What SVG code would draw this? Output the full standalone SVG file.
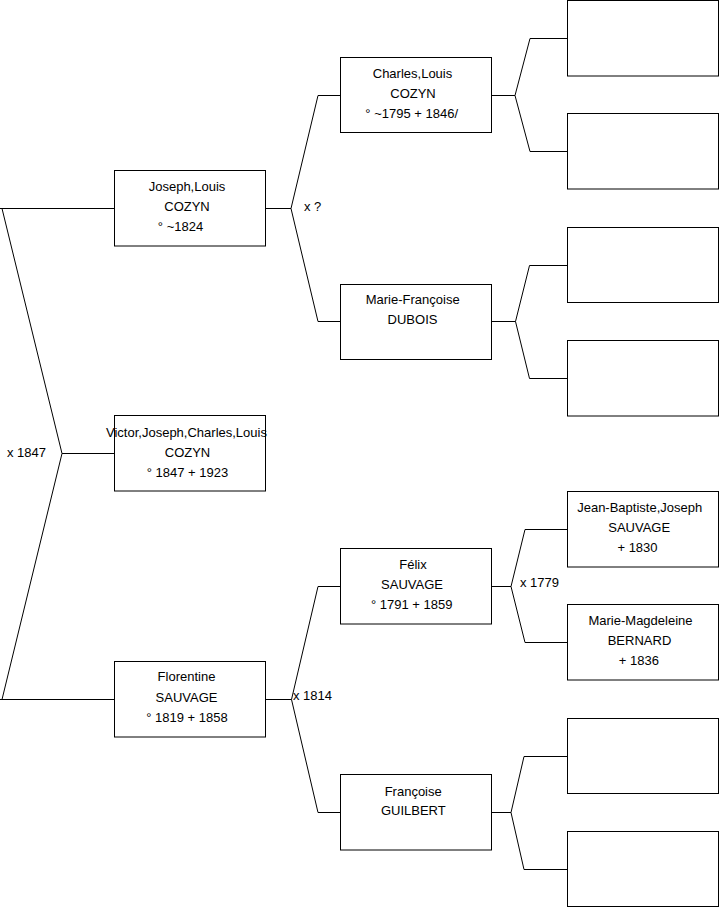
<svg xmlns="http://www.w3.org/2000/svg" width="719" height="908" viewBox="0 0 719 908">
<style>
.box{fill:#fff;stroke:#000;stroke-width:1}
.ln{fill:none;stroke:#000;stroke-width:1}
text{font-family:"Liberation Sans",Arial,sans-serif;font-size:13px;fill:#000}
.c{text-anchor:middle}
</style>
<rect width="719" height="908" fill="#fff"/>
<g id="connectors">
<polyline class="ln" points="114,208.5 0,208.5"/>
<polyline class="ln" points="2,208.5 62,453.5 2,699.5"/>
<polyline class="ln" points="62,453.5 114,453.5"/>
<polyline class="ln" points="0,699.5 114,699.5"/>
<polyline class="ln" points="265,208.5 291,208.5"/>
<polyline class="ln" points="341,95.5 318,95.5 291,208.5 318,321.5 341,321.5"/>
<polyline class="ln" points="265,699.5 291.5,699.5"/>
<polyline class="ln" points="341,586.5 318,586.5 291.5,699.5 318,812.5 341,812.5"/>
<polyline class="ln" points="491,95.5 515,95.5"/>
<polyline class="ln" points="567,38.5 530,38.5 515,95.5 530,151.5 567,151.5"/>
<polyline class="ln" points="491,321.5 515.5,321.5"/>
<polyline class="ln" points="567,265.5 529.5,265.5 515.5,321.5 529.5,378.5 567,378.5"/>
<polyline class="ln" points="491,586.5 511,586.5"/>
<polyline class="ln" points="567,529.5 525,529.5 511,586.5 525,642.5 567,642.5"/>
<polyline class="ln" points="491,812.5 511,812.5"/>
<polyline class="ln" points="567,756.5 524,756.5 511,812.5 524,869.5 567,869.5"/>
<text x="7" y="457">x 1847</text>
<text x="304" y="211">x ?</text>
<text x="293" y="700">x 1814</text>
<text x="520" y="587">x 1779</text>
</g>
<g id="joseph">
<rect class="box" x="114.5" y="170.5" width="151" height="75.5"/>
<text class="c" x="187" y="191">Joseph,Louis</text>
<text class="c" x="187" y="211">COZYN</text>
<text class="c" x="180.5" y="231">° ~1824</text>
</g>
<g id="victor">
<rect class="box" x="114.5" y="415.5" width="151" height="75.5"/>
<text class="c" x="186.5" y="437">Victor,Joseph,Charles,Louis</text>
<text class="c" x="187.5" y="457">COZYN</text>
<text class="c" x="187.5" y="477">° 1847 + 1923</text>
</g>
<g id="florentine">
<rect class="box" x="114.5" y="661.5" width="151" height="75.5"/>
<text class="c" x="186.5" y="681">Florentine</text>
<text class="c" x="186.5" y="701.5">SAUVAGE</text>
<text class="c" x="187" y="721.5">° 1819 + 1858</text>
</g>
<g id="charles">
<rect class="box" x="340.5" y="57.5" width="151" height="75"/>
<text class="c" x="412.5" y="77.5">Charles,Louis</text>
<text class="c" x="413" y="97.5">COZYN</text>
<text class="c" x="411.7" y="117.5">° ~1795 + 1846/</text>
</g>
<g id="marie-francoise">
<rect class="box" x="340.5" y="284.5" width="151" height="75"/>
<text class="c" x="412.7" y="303.5">Marie-Françoise</text>
<text class="c" x="412.5" y="323.5">DUBOIS</text>
</g>
<g id="felix">
<rect class="box" x="340.5" y="548.5" width="151" height="75.5"/>
<text class="c" x="413" y="568.5">Félix</text>
<text class="c" x="412" y="588.5">SAUVAGE</text>
<text class="c" x="411.7" y="608.5">° 1791 + 1859</text>
</g>
<g id="francoise">
<rect class="box" x="340.5" y="774.5" width="151" height="75.5"/>
<text class="c" x="413.2" y="795.5">Françoise</text>
<text class="c" x="413.3" y="815">GUILBERT</text>
</g>
<g id="empty1"><rect class="box" x="567.5" y="0.5" width="151" height="75.5"/></g>
<g id="empty2"><rect class="box" x="567.5" y="113.5" width="151" height="75.5"/></g>
<g id="empty3"><rect class="box" x="567.5" y="227.5" width="151" height="75"/></g>
<g id="empty4"><rect class="box" x="567.5" y="340.5" width="151" height="75.5"/></g>
<g id="jean-baptiste">
<rect class="box" x="567.5" y="491.5" width="151" height="75.5"/>
<text class="c" x="639.7" y="511.7">Jean-Baptiste,Joseph</text>
<text class="c" x="639.2" y="531.7">SAUVAGE</text>
<text class="c" x="637.5" y="551.7">+ 1830</text>
</g>
<g id="marie-magdeleine">
<rect class="box" x="567.5" y="604.5" width="151" height="75.5"/>
<text class="c" x="640.5" y="625">Marie-Magdeleine</text>
<text class="c" x="639.5" y="645">BERNARD</text>
<text class="c" x="638.8" y="665">+ 1836</text>
</g>
<g id="empty5"><rect class="box" x="567.5" y="718.5" width="151" height="75"/></g>
<g id="empty6"><rect class="box" x="567.5" y="831.5" width="151" height="75"/></g>
</svg>
